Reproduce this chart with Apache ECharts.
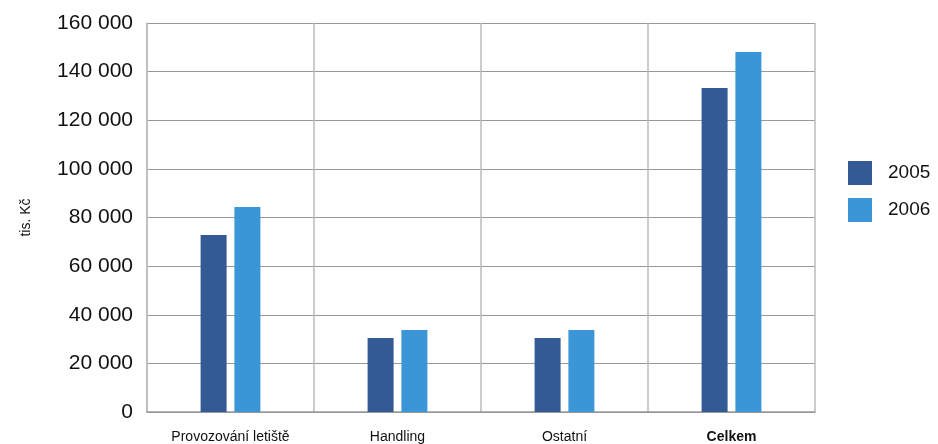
<!DOCTYPE html>
<html><head><meta charset="utf-8">
<script src="https://cdn.jsdelivr.net/npm/echarts@6/dist/echarts.min.js"></script>
<style>html,body{margin:0;padding:0;background:#fff}#c{width:938px;height:444px}</style>
</head><body><div id="c"></div>
<script>
const categories = ['Provozování letiště', 'Handling', 'Ostatní', 'Celkem'];
const values2005 = [72800, 30400, 30400, 133300];
const values2006 = [84300, 33700, 33700, 148100];
const seriesNames = ['2005', '2006'];
const yTicks = { min: 0, max: 160000, interval: 20000 };

const chart = echarts.init(document.getElementById('c'), null, { renderer: 'canvas' });
const fmt = v => String(v).replace(/\B(?=(\d{3})+(?!\d))/g, ' ');
chart.setOption({
  animation: false,
  textStyle: { fontFamily: 'Liberation Sans' },
  grid: { left: 147, right: 123, top: 23, bottom: 32, containLabel: false },
  legend: {
    orient: 'vertical', left: 848, top: 161, padding: 0,
    itemWidth: 24, itemHeight: 24, itemGap: 13,
    icon: 'rect',
    textStyle: { fontSize: 19, color: '#111', padding: [0, 0, 0, 11] },
    data: seriesNames
  },
  xAxis: {
    type: 'category', data: categories,
    axisLine: { show: true, lineStyle: { color: '#999', width: 1.5 } },
    axisTick: { show: false },
    splitLine: { show: true, lineStyle: { color: '#bbb', width: 1.5 } },
    axisLabel: {
      fontSize: 14, color: '#111', margin: 18,
      formatter: v => v === 'Celkem' ? '{b|' + v + '}' : v,
      rich: { b: { fontWeight: 'bold', fontSize: 14, color: '#111' } }
    }
  },
  yAxis: {
    type: 'value', min: yTicks.min, max: yTicks.max, interval: yTicks.interval,
    name: 'tis. Kč', nameLocation: 'middle', nameGap: 114, nameRotate: 90,
    nameTextStyle: { fontSize: 14, color: '#111' },
    axisLine: { show: true, lineStyle: { color: '#bbb', width: 1.5 } },
    axisTick: { show: false },
    splitLine: { show: true, lineStyle: { color: '#999', width: 1.2 } },
    axisLabel: { fontSize: 21, color: '#111', margin: 14, formatter: fmt }
  },
  series: [
    { name: seriesNames[0], type: 'bar', data: values2005, barWidth: 26, barGap: '30%', itemStyle: { color: '#345A96' } },
    { name: seriesNames[1], type: 'bar', data: values2006, barWidth: 26, itemStyle: { color: '#3A96D6' } }
  ]
});
</script></body></html>
